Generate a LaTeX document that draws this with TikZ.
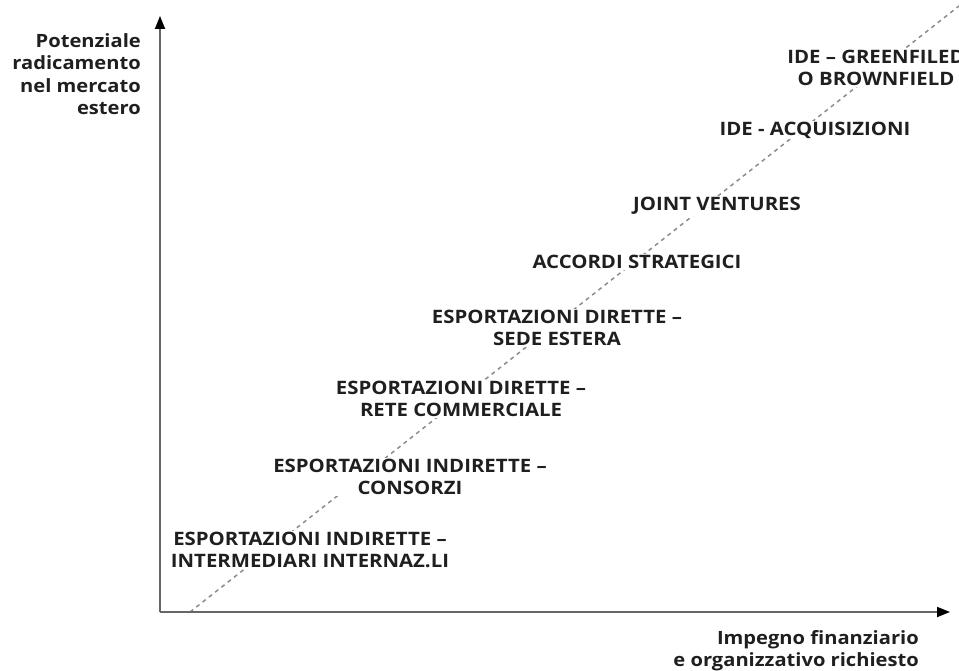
\documentclass[tikz,border=0pt]{standalone}
\usepackage{fontspec}
\setmainfont{Open Sans}[FakeStretch=1.1]
\usetikzlibrary{arrows.meta}
\begin{document}
\begin{tikzpicture}[x=1pt,y=-1pt,
  lab/.style={font=\fontsize{18.5}{21.5}\selectfont\bfseries, text=black!88, align=center, fill=white, inner sep=1pt},
  axlab/.style={font=\fontsize{18.3}{22.3}\selectfont\bfseries, text=black!88, inner sep=0pt},
  axis/.style={draw=black!60, line width=1.8pt, -{Triangle[length=13pt,width=10pt,color=black]}},
  diag/.style={draw=black!45, line width=1.5pt, dash pattern=on 4pt off 4pt}]
\useasboundingbox (0,0) rectangle (959,671);
\coordinate (O) at (160,612);
\coordinate (ytip) at (160,16);
\coordinate (xtip) at (950,612);
\coordinate (d0) at (190,612);
\coordinate (d1) at (959,6);
\draw[diag] (d0) -- (d1);
\draw[axis] (O) -- (ytip);
\draw[axis] (O) -- (xtip);
\node[axlab, anchor=east, align=right] (ylab) at (141,74) {Potenziale\\radicamento\\nel mercato\\estero};
\node[axlab, anchor=east, align=right] (xlab) at (919,651) {Impegno finanziario\\e organizzativo richiesto};
\node[lab] (n1) at (310,550) {ESPORTAZIONI INDIRETTE –\\INTERMEDIARI INTERNAZ.LI};
\node[lab] (n2) at (410,477) {ESPORTAZIONI INDIRETTE –\\CONSORZI};
\node[lab] (n3) at (461,399) {ESPORTAZIONI DIRETTE –\\RETE COMMERCIALE};
\node[lab] (n4) at (557,328) {ESPORTAZIONI DIRETTE –\\SEDE ESTERA};
\node[lab] (n5) at (637,262) {ACCORDI STRATEGICI};
\node[lab] (n6) at (717,206) {JOINT VENTURES};
\node[lab] (n7) at (815,130) {IDE - ACQUISIZIONI};
\node[lab] (n8) at (876,68) {IDE – GREENFILED\\O BROWNFIELD};
\end{tikzpicture}
\end{document}
